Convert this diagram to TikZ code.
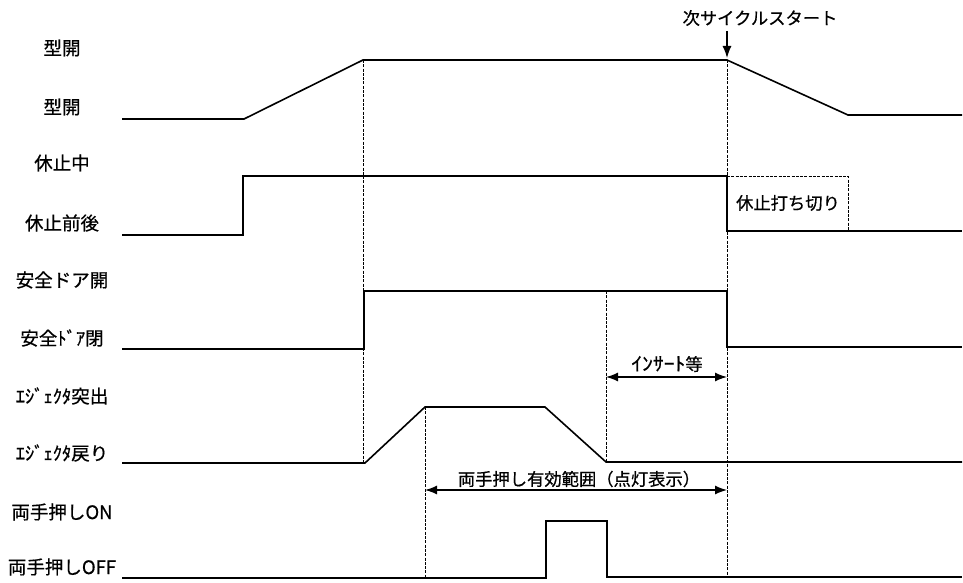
\documentclass[tikz,border=0pt]{standalone}
\usepackage{fontspec}
\usepackage{graphicx}
\newfontfamily\jp[FakeBold=0.6]{Noto Sans CJK JP}
\usetikzlibrary{arrows.meta}
\begin{document}
\begin{tikzpicture}[x=1pt,y=-1pt,
  sig/.style={line width=1.6pt, line join=miter},
  guide/.style={line width=1pt, dash pattern=on 3pt off 1.3pt},
  lbl/.style={font=\jp\fontsize{18.5}{20}\selectfont, inner sep=0pt},
  txt/.style={font=\jp\fontsize{17.3}{19}\selectfont, inner sep=0pt},
  dimarrow/.style={line width=1.3pt, {Latex[length=12pt,width=9pt]}-{Latex[length=12pt,width=9pt]}},
  downarrow/.style={line width=1.3pt, -{Latex[length=12pt,width=9pt]}}]
\useasboundingbox (0,0) rectangle (963,583);
% left labels
\node[lbl] (l1) at (62,48) {型開};
\node[lbl] (l2) at (62,107) {型開};
\node[lbl] (l3) at (62,163) {休止中};
\node[lbl] (l4) at (62,223) {休止前後};
\node[lbl] (l5) at (62,280) {安全ドア開};
\node[lbl] (l6) at (62,338) {安全ﾄﾞｱ閉};
\node[lbl] (l7) at (62,396) {ｴｼﾞｪｸﾀ突出};
\node[lbl] (l8) at (62,453) {ｴｼﾞｪｸﾀ戻り};
\node[lbl] (l9) at (62,512) {両手押しON};
\node[lbl] (l10) at (62,567) {両手押しOFF};
% guide lines
\draw[guide] (363,60) -- (363,463);
\draw[guide] (727,60) -- (727,578);
\draw[guide] (425,407) -- (425,578);
\draw[guide] (606,291) -- (606,462);
\draw[guide] (727,176) -- (848,176) -- (848,231);
% signals
\draw[sig] (122,119) -- (244,119) -- (363,60) -- (727,60) -- (848,115) -- (962,115);
\draw[sig] (122,235) -- (243,235) -- (243,176) -- (727,176) -- (727,231) -- (962,231);
\draw[sig] (122,349) -- (364,349) -- (364,291) -- (727,291) -- (727,347) -- (962,347);
\draw[sig] (122,463) -- (365,463) -- (425,407) -- (545,407) -- (606,462) -- (962,462);
\draw[sig] (122,578) -- (546,578) -- (546,521) -- (607,521) -- (607,577) -- (962,577);
% annotations
\node[txt] (next) at (760,18) {次サイクルスタート};
\coordinate (nexttail) at (727,31);
\coordinate (nexttip) at (727,58);
\draw[downarrow] (nexttail) -- (nexttip);
\node[txt] (stop) at (788,203) {休止打ち切り};
\node[txt] (ins) at (667,364) {\scalebox{1.25}[1.1]{ｲﾝｻｰﾄ}等};
\coordinate (insL) at (606,377);
\coordinate (insR) at (727,377);
\draw[dimarrow] (insL) -- (insR);
\node[txt] (both) at (579,479) {両手押し有効範囲（点灯表示）};
\coordinate (bothL) at (425,490);
\coordinate (bothR) at (727,490);
\draw[dimarrow] (bothL) -- (bothR);
\end{tikzpicture}
\end{document}
